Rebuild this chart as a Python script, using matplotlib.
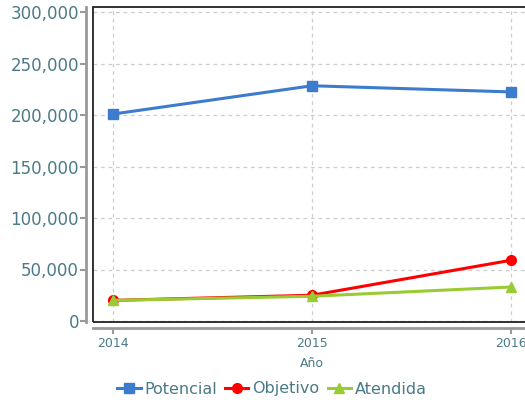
import numpy as np
import matplotlib.pyplot as plt
from matplotlib.patches import Rectangle
from matplotlib.ticker import FuncFormatter

years = [2014, 2015, 2016]
potencial = [201000, 228500, 222500]
objetivo = [20000, 25000, 59000]
atendida = [20000, 24000, 33000]

label_color = '#4a7a88'
plt.rcParams['font.family'] = ['DejaVu Sans']

fig = plt.figure(figsize=(5.25, 4.0), dpi=100)
ax = fig.add_axes([93 / 525, 1 - 322 / 400, (531 - 93) / 525, (322 - 7) / 400])

ax.plot(years, potencial, color='#3d7ccc', lw=2.2, marker='s', ms=7, label='Potencial', clip_on=False, zorder=3)
ax.plot(years, objetivo, color='#ff0000', lw=2.2, marker='o', ms=7, label='Objetivo', clip_on=False, zorder=4)
ax.plot(years, atendida, color='#99cc33', lw=2.2, marker='^', ms=7, label='Atendida', clip_on=False, zorder=5)

ax.set_xlim(2013.9, 2016.1)
ax.set_ylim(-1000, 305000)
ax.set_xticks(years)
ax.set_yticks(np.arange(0, 300001, 50000))
ax.yaxis.set_major_formatter(FuncFormatter(lambda v, p: f'{int(v):,}'))
ax.grid(True, color='#cccccc', ls=(0, (3, 3)), lw=0.9)
ax.set_axisbelow(True)

for s in ['top', 'right']:
    ax.spines[s].set_visible(False)
ax.spines['left'].set_position(('outward', 5))
ax.spines['bottom'].set_position(('outward', 4))
for s in ['left', 'bottom']:
    ax.spines[s].set_color('#999999')
    ax.spines[s].set_linewidth(2)
ax.add_patch(Rectangle((0, 0), 1, 1, transform=ax.transAxes, fill=False,
                       ec='#222222', lw=1.3, clip_on=False, zorder=6))

ax.tick_params(axis='y', colors='#999999', labelcolor=label_color, labelsize=12, length=4, width=1.5, pad=1)
ax.tick_params(axis='x', colors='#999999', labelcolor=label_color, labelsize=9, length=4, width=1.5, pad=2.5)
ax.set_xlabel('Año', color=label_color, fontsize=9, labelpad=5)

fig.legend(loc='center', bbox_to_anchor=(272 / 525, 1 - 389 / 400), ncol=3, frameon=False,
           fontsize=11.5, labelcolor=label_color, handlelength=1.45, handletextpad=0.25,
           columnspacing=0.5)

fig.savefig('out.png', dpi=100)
